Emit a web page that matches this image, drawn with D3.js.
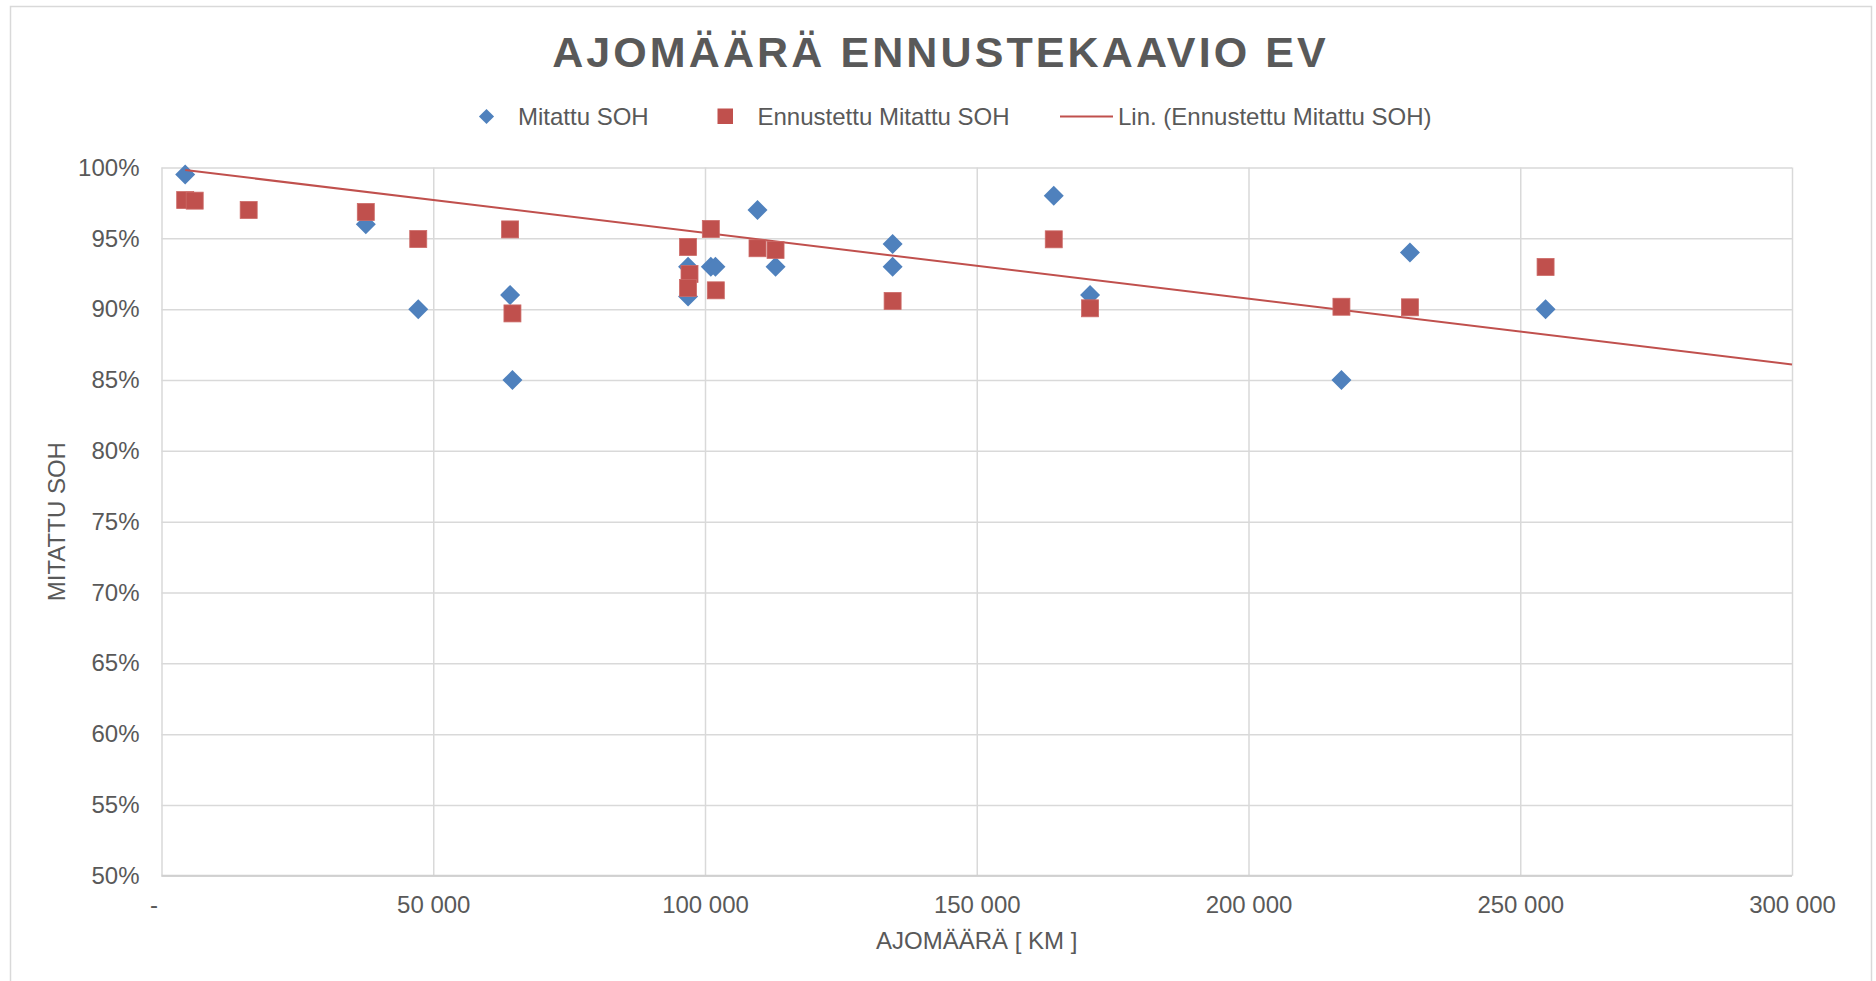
<!DOCTYPE html>
<html>
<head>
<meta charset="utf-8">
<script src="https://cdn.jsdelivr.net/npm/d3@7/dist/d3.min.js"></script>
<style>
  html, body { margin: 0; padding: 0; background: #ffffff; }
  svg { display: block; font-family: Arial, "Liberation Sans", sans-serif; }
</style>
</head>
<body>
<svg id="chart" width="1876" height="981"></svg>
<script>
// ---- Data ----
const titleText = "AJOMÄÄRÄ ENNUSTEKAAVIO EV";
const xAxisTitle = "AJOMÄÄRÄ [ KM ]";
const yAxisTitle = "MITATTU SOH";
const seriesNames = ["Mitattu SOH", "Ennustettu Mitattu SOH", "Lin. (Ennustettu Mitattu SOH)"];

const xTickValues = [0, 50000, 100000, 150000, 200000, 250000, 300000];
const xTickLabels = ["-", "50 000", "100 000", "150 000", "200 000", "250 000", "300 000"];
const yTickValues = [0.50, 0.55, 0.60, 0.65, 0.70, 0.75, 0.80, 0.85, 0.90, 0.95, 1.00];
const yTickLabels = ["50%", "55%", "60%", "65%", "70%", "75%", "80%", "85%", "90%", "95%", "100%"];

// Mitattu SOH (blue diamonds)
const measuredKm  = [4360, 37590, 47240, 64140, 64570, 96880, 96880, 101070, 101920, 109660, 112980, 134520, 134520, 164170, 170850, 217100, 229700, 254660];
const measuredSoh = [0.995, 0.960, 0.900, 0.910, 0.850, 0.930, 0.909, 0.930, 0.930, 0.970, 0.930, 0.946, 0.930, 0.980, 0.910, 0.850, 0.940, 0.900];

// Ennustettu Mitattu SOH (red squares)
const forecastKm  = [4360, 6110, 16040, 37590, 47240, 64140, 64570, 96880, 97150, 96880, 101070, 101990, 109660, 112980, 134520, 164170, 170850, 217100, 229700, 254660];
const forecastSoh = [0.977, 0.9766, 0.970, 0.9686, 0.9495, 0.9563, 0.897, 0.9439, 0.9248, 0.915, 0.9566, 0.9133, 0.943, 0.9418, 0.9058, 0.9493, 0.9006, 0.9017, 0.9013, 0.9298];

// Linear trendline (endpoints as drawn)
const trendKm  = [4360, 300000];
const trendSoh = [0.9982, 0.861];

// ---- Layout ----
const svg = d3.select("#chart");
const plot = { left: 161.5, right: 1792, top: 167.5, bottom: 875.8 };
const textColor = "#595959";
const gridColor = "#d9d9d9";
const blue = "#4F81BD";
const red = "#C0504D";

// chart border
svg.append("rect")
  .attr("x", 10.5).attr("y", 6.5)
  .attr("width", 1861).attr("height", 1010)
  .attr("fill", "#ffffff")
  .attr("stroke", gridColor).attr("stroke-width", 1.5);

const x = d3.scaleLinear().domain([0, 300000]).range([plot.left, plot.right]);
const y = d3.scaleLinear().domain([0.5, 1.0]).range([plot.bottom, plot.top]);

// horizontal gridlines + y labels
const yAxis = d3.axisLeft(y)
  .tickValues(yTickValues)
  .tickFormat((d, i) => yTickLabels[i])
  .tickSize(-(plot.right - plot.left))
  .tickPadding(22);
const gy = svg.append("g").attr("transform", `translate(${plot.left},0)`).call(yAxis);
gy.select(".domain").remove();
gy.selectAll(".tick line").attr("stroke", gridColor).attr("stroke-width", 1.5);
gy.selectAll(".tick text")
  .attr("fill", textColor).attr("font-size", 24).attr("font-family", "Arial, 'Liberation Sans', sans-serif");

// vertical gridlines + x labels
const xAxis = d3.axisBottom(x)
  .tickValues(xTickValues)
  .tickFormat((d, i) => xTickLabels[i])
  .tickSize(-(plot.bottom - plot.top))
  .tickPadding(20);
const gx = svg.append("g").attr("transform", `translate(0,${plot.bottom})`).call(xAxis);
gx.select(".domain").remove();
gx.selectAll(".tick line").attr("stroke", gridColor).attr("stroke-width", 1.5);
gx.selectAll(".tick text")
  .attr("fill", textColor).attr("font-size", 24).attr("font-family", "Arial, 'Liberation Sans', sans-serif")
  .attr("dx", (d, i) => i === 0 ? -8 : 0);

// bottom axis line
svg.append("line")
  .attr("x1", plot.left).attr("x2", plot.right)
  .attr("y1", plot.bottom).attr("y2", plot.bottom)
  .attr("stroke", "#d0d0d0").attr("stroke-width", 2);

// blue diamonds
const diamond = d3.symbol().type(d3.symbolSquare).size(200);
svg.append("g").selectAll("path")
  .data(measuredKm.map((k, i) => [k, measuredSoh[i]]))
  .join("path")
  .attr("d", diamond)
  .attr("transform", d => `translate(${x(d[0])},${y(d[1])}) rotate(45)`)
  .attr("fill", blue);

// trendline
svg.append("path")
  .datum(trendKm.map((k, i) => [k, trendSoh[i]]))
  .attr("d", d3.line().x(d => x(d[0])).y(d => y(d[1])))
  .attr("fill", "none").attr("stroke", red).attr("stroke-width", 2);

// red squares
svg.append("g").selectAll("rect")
  .data(forecastKm.map((k, i) => [k, forecastSoh[i]]))
  .join("rect")
  .attr("x", d => x(d[0]) - 8.5).attr("y", d => y(d[1]) - 8.5)
  .attr("width", 17).attr("height", 17)
  .attr("fill", red).attr("stroke", "#cc6a67").attr("stroke-width", 0.8);

// title
svg.append("text")
  .attr("x", 940.5).attr("y", 66.5)
  .attr("text-anchor", "middle")
  .attr("font-size", 43).attr("font-weight", "bold")
  .attr("fill", textColor)
  .style("letter-spacing", "3.1px")
  .text(titleText);

// legend
const lg = svg.append("g");
lg.append("path").attr("d", d3.symbol().type(d3.symbolSquare).size(115))
  .attr("transform", "translate(486.5,116.5) rotate(45)").attr("fill", blue);
lg.append("text").attr("x", 518).attr("y", 124.5).attr("font-size", 24).attr("fill", textColor).text(seriesNames[0]);
lg.append("rect").attr("x", 717.5).attr("y", 108.5).attr("width", 15.5).attr("height", 15.5).attr("fill", red);
lg.append("text").attr("x", 757.5).attr("y", 124.5).attr("font-size", 24).attr("fill", textColor).text(seriesNames[1]);
lg.append("line").attr("x1", 1060).attr("x2", 1113).attr("y1", 116.5).attr("y2", 116.5)
  .attr("stroke", red).attr("stroke-width", 2);
lg.append("text").attr("x", 1118).attr("y", 124.5).attr("font-size", 24).attr("fill", textColor).text(seriesNames[2]);

// axis titles
svg.append("text")
  .attr("x", (plot.left + plot.right) / 2).attr("y", 949)
  .attr("text-anchor", "middle").attr("font-size", 24).attr("fill", textColor)
  .text(xAxisTitle);
svg.append("text")
  .attr("transform", `translate(64.5,${(plot.top + plot.bottom) / 2}) rotate(-90)`)
  .attr("text-anchor", "middle").attr("font-size", 24).attr("fill", textColor)
  .text(yAxisTitle);
</script>
</body>
</html>
